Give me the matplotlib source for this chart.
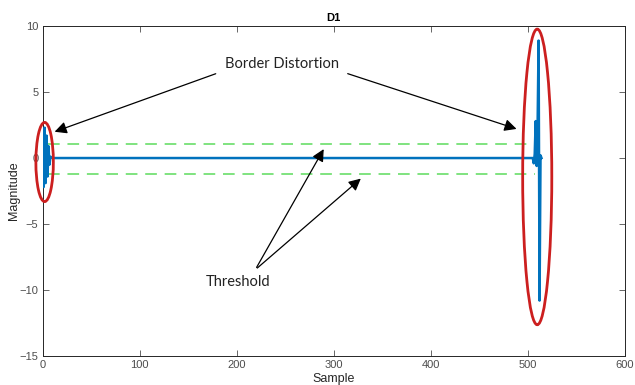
import numpy as np
import matplotlib
matplotlib.use('Agg')
import matplotlib.pyplot as plt
from matplotlib.patches import Ellipse

# D1 detail coefficients (key vertices)
samples = [0, 1, 2, 3, 4, 5, 6, 7, 8, 10, 505, 506, 507, 508, 509, 510, 511, 512, 513, 514]
values = [0.2, -2.2, 2.3, -1.9, 1.7, -1.4, 0.9, -0.5, 0.1, 0.0,
          0.0, -0.4, 0.3, 2.8, -0.6, 2.6, 8.9, -10.8, 0.2, 0.0]

thr_upper = 1.05
thr_lower = -1.2
thr_start, thr_end = 5, 507

xticks = [0, 100, 200, 300, 400, 500, 600]
yticks = [-15, -10, -5, 0, 5, 10]

plt.rcParams['font.family'] = ['Liberation Sans', 'DejaVu Sans']

fig = plt.figure(figsize=(6.35, 3.85), dpi=100)
ax = fig.add_axes([0.0672, 0.0753, 0.917, 0.857])

ax.plot(samples, values, color='#0072BD', linewidth=1.8, zorder=3)
ax.plot([thr_start, thr_end], [thr_upper, thr_upper], '--', color='#7FE37F', linewidth=1.4, dashes=(6, 4))
ax.plot([thr_start, thr_end], [thr_lower, thr_lower], '--', color='#7FE37F', linewidth=1.4, dashes=(6, 4))

# red ellipses around the border regions
ax.add_patch(Ellipse((2, -0.3), 18, 6.0, fill=False, edgecolor='#CC1F1F', linewidth=2, zorder=4, clip_on=False))
ax.add_patch(Ellipse((509.6, -1.43), 30, 22.4, fill=False, edgecolor='#CC1F1F', linewidth=2, zorder=4, clip_on=False))

arrow = dict(arrowstyle='-|>,head_length=0.6,head_width=0.3', color='black', lw=0.9, mutation_scale=12)
ann_font = dict(family=['Lato', 'DejaVu Sans'], fontsize=10.5, color='#222222')
ax.annotate('', xy=(9.6, 1.92), xytext=(181, 6.46), arrowprops=arrow)
ax.annotate('', xy=(491, 2.14), xytext=(311.6, 6.46), arrowprops=arrow)
ax.text(247, 7.14, 'Border Distortion', ha='center', va='center', **ann_font)
ax.annotate('', xy=(291, 0.86), xytext=(219, -8.47), arrowprops=arrow)
ax.annotate('', xy=(330, -1.42), xytext=(219, -8.47), arrowprops=arrow)
ax.text(201.3, -9.38, 'Threshold', ha='center', va='center', **ann_font)

ax.set_xlim(0, 600)
ax.set_ylim(-15, 10)
ax.set_xticks(xticks)
ax.set_yticks(yticks)
ax.tick_params(direction='in', length=4, width=0.6, labelsize=8, colors='#4D4D4D',
               top=True, right=True, pad=3)
for s in ax.spines.values():
    s.set_linewidth(0.7)
    s.set_color('#262626')

ax.set_title('D1', fontsize=8, fontweight='bold', pad=4)
ax.set_xlabel('Sample', fontsize=9, color='#262626')
ax.set_ylabel('Magnitude', fontsize=9, color='#262626')
ax.xaxis.set_label_coords(0.5, -0.052)
ax.yaxis.set_label_coords(-0.039, 0.5)

fig.savefig('out.png', dpi=100)
